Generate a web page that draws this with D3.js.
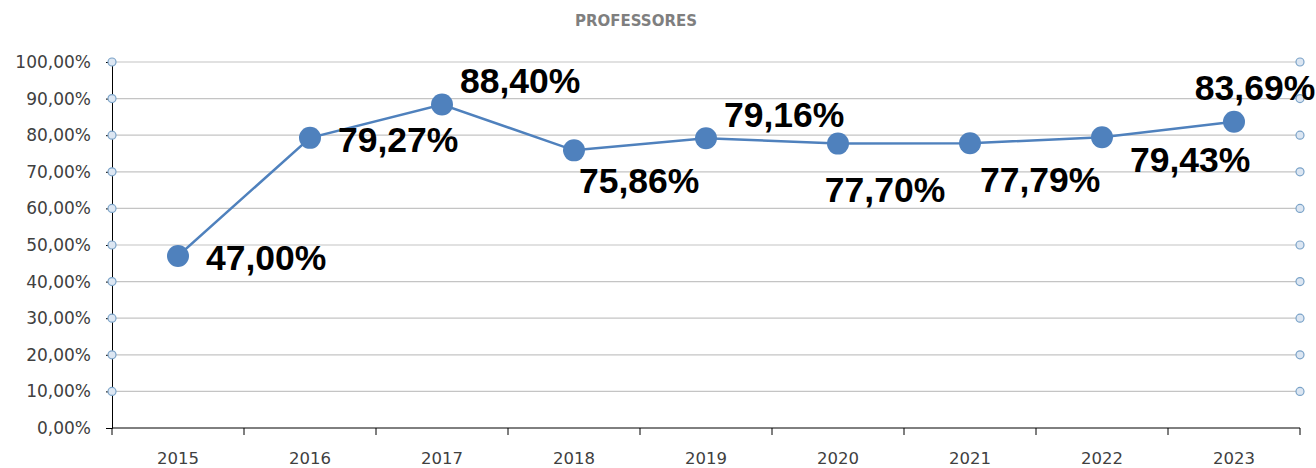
<!DOCTYPE html>
<html>
<head>
<meta charset="utf-8">
<title>PROFESSORES</title>
<script src="https://cdn.jsdelivr.net/npm/d3@7"></script>
<style>
  body { margin: 0; background: #fff; }
  svg { display: block; }
  .tick text { font-family: "DejaVu Sans", Verdana, sans-serif; font-size: 17px; fill: #404040; }
</style>
</head>
<body>
<svg id="chart" width="1316" height="468"></svg>
<script>
var years = ["2015", "2016", "2017", "2018", "2019", "2020", "2021", "2022", "2023"];
var values = [47.00, 79.27, 88.40, 75.86, 79.16, 77.70, 77.79, 79.43, 83.69];
var labels = ["47,00%", "79,27%", "88,40%", "75,86%", "79,16%", "77,70%", "77,79%", "79,43%", "83,69%"];
// where each label sits relative to its point
var labelPos = ["right", "right", "aboveRight", "belowRight", "aboveRight", "below", "belowRight2", "belowRight3", "above"];
var yTicks = [0, 10, 20, 30, 40, 50, 60, 70, 80, 90, 100];

var svg = d3.select("#chart");
var plotLeft = 112, plotRight = 1300, plotTop = 62, plotBottom = 428;

var x = d3.scaleBand().domain(years).range([plotLeft, plotRight]);
var y = d3.scaleLinear().domain([0, 100]).range([plotBottom, plotTop]);

function fmt(v) { return d3.format(".2f")(v).replace(".", ",") + "%"; }

svg.append("text")
  .attr("x", 636).attr("y", 26)
  .attr("text-anchor", "middle")
  .style("font-family", "'DejaVu Sans', Verdana, sans-serif")
  .style("font-size", "15px").style("font-weight", "bold")
  .style("fill", "#7f7f7f")
  .text("PROFESSORES");

// gridlines
svg.append("g").selectAll("line")
  .data(yTicks.filter(function(d) { return d > 0; }))
  .enter().append("line")
  .attr("x1", plotLeft).attr("x2", plotRight)
  .attr("y1", function(d) { return y(d); })
  .attr("y2", function(d) { return y(d); })
  .attr("stroke", "#c4c4c4").attr("stroke-width", 1.2);

// y axis
var yAxis = svg.append("g")
  .attr("transform", "translate(" + plotLeft + ",0)")
  .call(d3.axisLeft(y).tickValues(yTicks).tickFormat(fmt).tickSize(6).tickPadding(15));
yAxis.select(".domain").attr("stroke", "#000");
yAxis.selectAll(".tick line").attr("stroke", "#000");

// x axis with ticks at band edges
var xAxis = svg.append("g")
  .attr("transform", "translate(0," + plotBottom + ")");
xAxis.append("line")
  .attr("x1", plotLeft).attr("x2", plotRight).attr("y1", 0).attr("y2", 0)
  .attr("stroke", "#000");
xAxis.selectAll(".edge")
  .data(years.concat(["end"]))
  .enter().append("line")
  .attr("x1", function(d, i) { return plotLeft + i * x.bandwidth(); })
  .attr("x2", function(d, i) { return plotLeft + i * x.bandwidth(); })
  .attr("y1", 0).attr("y2", 7)
  .attr("stroke", "#000");
xAxis.selectAll("text")
  .data(years)
  .enter().append("text")
  .attr("x", function(d) { return x(d) + x.bandwidth() / 2; })
  .attr("y", 36)
  .attr("text-anchor", "middle")
  .style("font-family", "'DejaVu Sans', Verdana, sans-serif")
  .style("font-size", "16.5px").style("fill", "#404040")
  .text(function(d) { return d; });

// small marker circles at both ends of gridlines
var ends = [];
yTicks.filter(function(d) { return d > 0; }).forEach(function(t) {
  ends.push({ x: plotLeft, v: t });
  ends.push({ x: plotRight, v: t });
});
svg.append("g").selectAll("circle")
  .data(ends)
  .enter().append("circle")
  .attr("cx", function(d) { return d.x; })
  .attr("cy", function(d) { return y(d.v); })
  .attr("r", 4)
  .attr("fill", "#dce6f2").attr("stroke", "#7ba3c8").attr("stroke-width", 1.2);

// series line
var cx = function(d, i) { return x(years[i]) + x.bandwidth() / 2; };
var line = d3.line()
  .x(function(d, i) { return cx(d, i); })
  .y(function(d) { return y(d); });

svg.append("path")
  .datum(values)
  .attr("d", line)
  .attr("fill", "none")
  .attr("stroke", "#4f81bd").attr("stroke-width", 2.5);

svg.append("g").selectAll("circle")
  .data(values)
  .enter().append("circle")
  .attr("cx", cx)
  .attr("cy", function(d) { return y(d); })
  .attr("r", 11)
  .attr("fill", "#4f81bd");

// data labels
var offsets = {
  right:       { dx: 28, dy: 14,  anchor: "start" },
  aboveRight:  { dx: 18, dy: -11, anchor: "start" },
  belowRight:  { dx: 5,  dy: 43,  anchor: "start" },
  belowRight2: { dx: 10, dy: 49,  anchor: "start" },
  belowRight3: { dx: 28, dy: 35,  anchor: "start" },
  below:       { dx: 47, dy: 58,  anchor: "middle" },
  above:       { dx: 21, dy: -22, anchor: "middle" }
};
svg.append("g").selectAll("text")
  .data(values)
  .enter().append("text")
  .attr("x", function(d, i) { return cx(d, i) + offsets[labelPos[i]].dx; })
  .attr("y", function(d, i) { return y(d) + offsets[labelPos[i]].dy; })
  .attr("text-anchor", function(d, i) { return offsets[labelPos[i]].anchor; })
  .style("font-family", "'Liberation Sans', Arial, sans-serif")
  .style("font-size", "35.5px").style("font-weight", "bold")
  .style("fill", "#000")
  .text(function(d, i) { return labels[i]; });
</script>
</body>
</html>
